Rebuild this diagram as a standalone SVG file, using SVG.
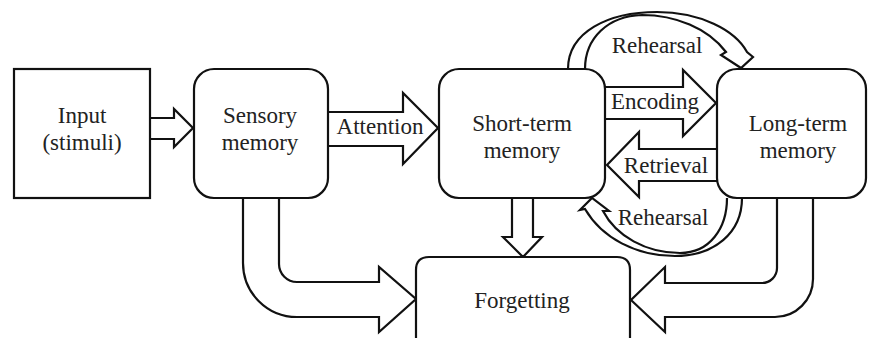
<svg xmlns="http://www.w3.org/2000/svg" width="869" height="338" viewBox="0 0 869 338">
<rect width="869" height="338" fill="#fff"/>
<g id="connectors" fill="#fff" stroke="#111" stroke-width="2.2">
<path d="M150,118 L174,118 L174,109 L193,128 L174,147 L174,139 L150,139"/>
<path d="M328,112 L403,112 L403,93 L438,128 L403,164 L403,146 L328,146"/>
<path d="M605,87 L683,87 L683,70 L716,103 L683,136 L683,119 L605,119"/>
<path d="M717,149 L639,149 L639,132 L607,165 L639,197 L639,181 L717,181"/>
<path d="M568,69 C568,32 608,12 657,12 C700,12 735,30 747,52 L753,57 L741,68 L721,55 L726,52 C708,28 675,15 642,15 C608,16 585,38 585,69"/>
<path d="M742,198 C742,233 714,256 675,256 C636,256 602,238 585,209 L580,210 L592,198 L609,211 L603,211 C616,236 646,253 680,253 C710,253 727,228 727,198"/>
<path d="M512,198 L512,237 L503,237 L523,257 L542,237 L533,237 L533,198"/>
<path d="M243,198 L243,263 A54,54 0 0 0 297,317 L379,317 L379,332 L416,299 L379,267 L379,282 L297,282 A18,18 0 0 1 279,264 L279,198"/>
<path d="M777,198 L777,268 A15,15 0 0 1 762,283 L665,283 L665,267 L631,300 L665,332 L665,317 L775,317 A38,38 0 0 0 813,279 L813,198"/>
</g>
<g id="connector-labels" font-family="Liberation Serif" font-size="23" fill="#222" text-anchor="middle">
<text x="380" y="134">Attention</text>
<text x="655" y="109">Encoding</text>
<text x="666" y="173">Retrieval</text>
<text x="657" y="53">Rehearsal</text>
<text x="663" y="225">Rehearsal</text>
</g>
<g id="nodes" font-family="Liberation Serif" font-size="23" text-anchor="middle">
<g id="input">
<rect x="14" y="69" width="136" height="129" fill="#fff" stroke="#111" stroke-width="2.2"/>
<text x="82" y="123" fill="#222">Input</text>
<text x="82" y="150" fill="#222">(stimuli)</text>
</g>
<g id="sensory">
<rect x="194" y="69" width="134" height="129" rx="20" fill="#fff" stroke="#111" stroke-width="2.2"/>
<text x="260" y="123" fill="#222">Sensory</text>
<text x="260" y="150" fill="#222">memory</text>
</g>
<g id="shortterm">
<rect x="439" y="69" width="166" height="129" rx="20" fill="#fff" stroke="#111" stroke-width="2.2"/>
<text x="522" y="131" fill="#222">Short-term</text>
<text x="522" y="158" fill="#222">memory</text>
</g>
<g id="longterm">
<rect x="717" y="69" width="149" height="129" rx="20" fill="#fff" stroke="#111" stroke-width="2.2"/>
<text x="798" y="131" fill="#222">Long-term</text>
<text x="798" y="158" fill="#222">memory</text>
</g>
<g id="forgetting">
<path d="M416,345 L416,270 Q416,257 429,257 L617,257 Q630,257 630,270 L630,345" fill="#fff" stroke="#111" stroke-width="2.2"/>
<text x="522" y="308" fill="#222">Forgetting</text>
</g>
</g>
</svg>
